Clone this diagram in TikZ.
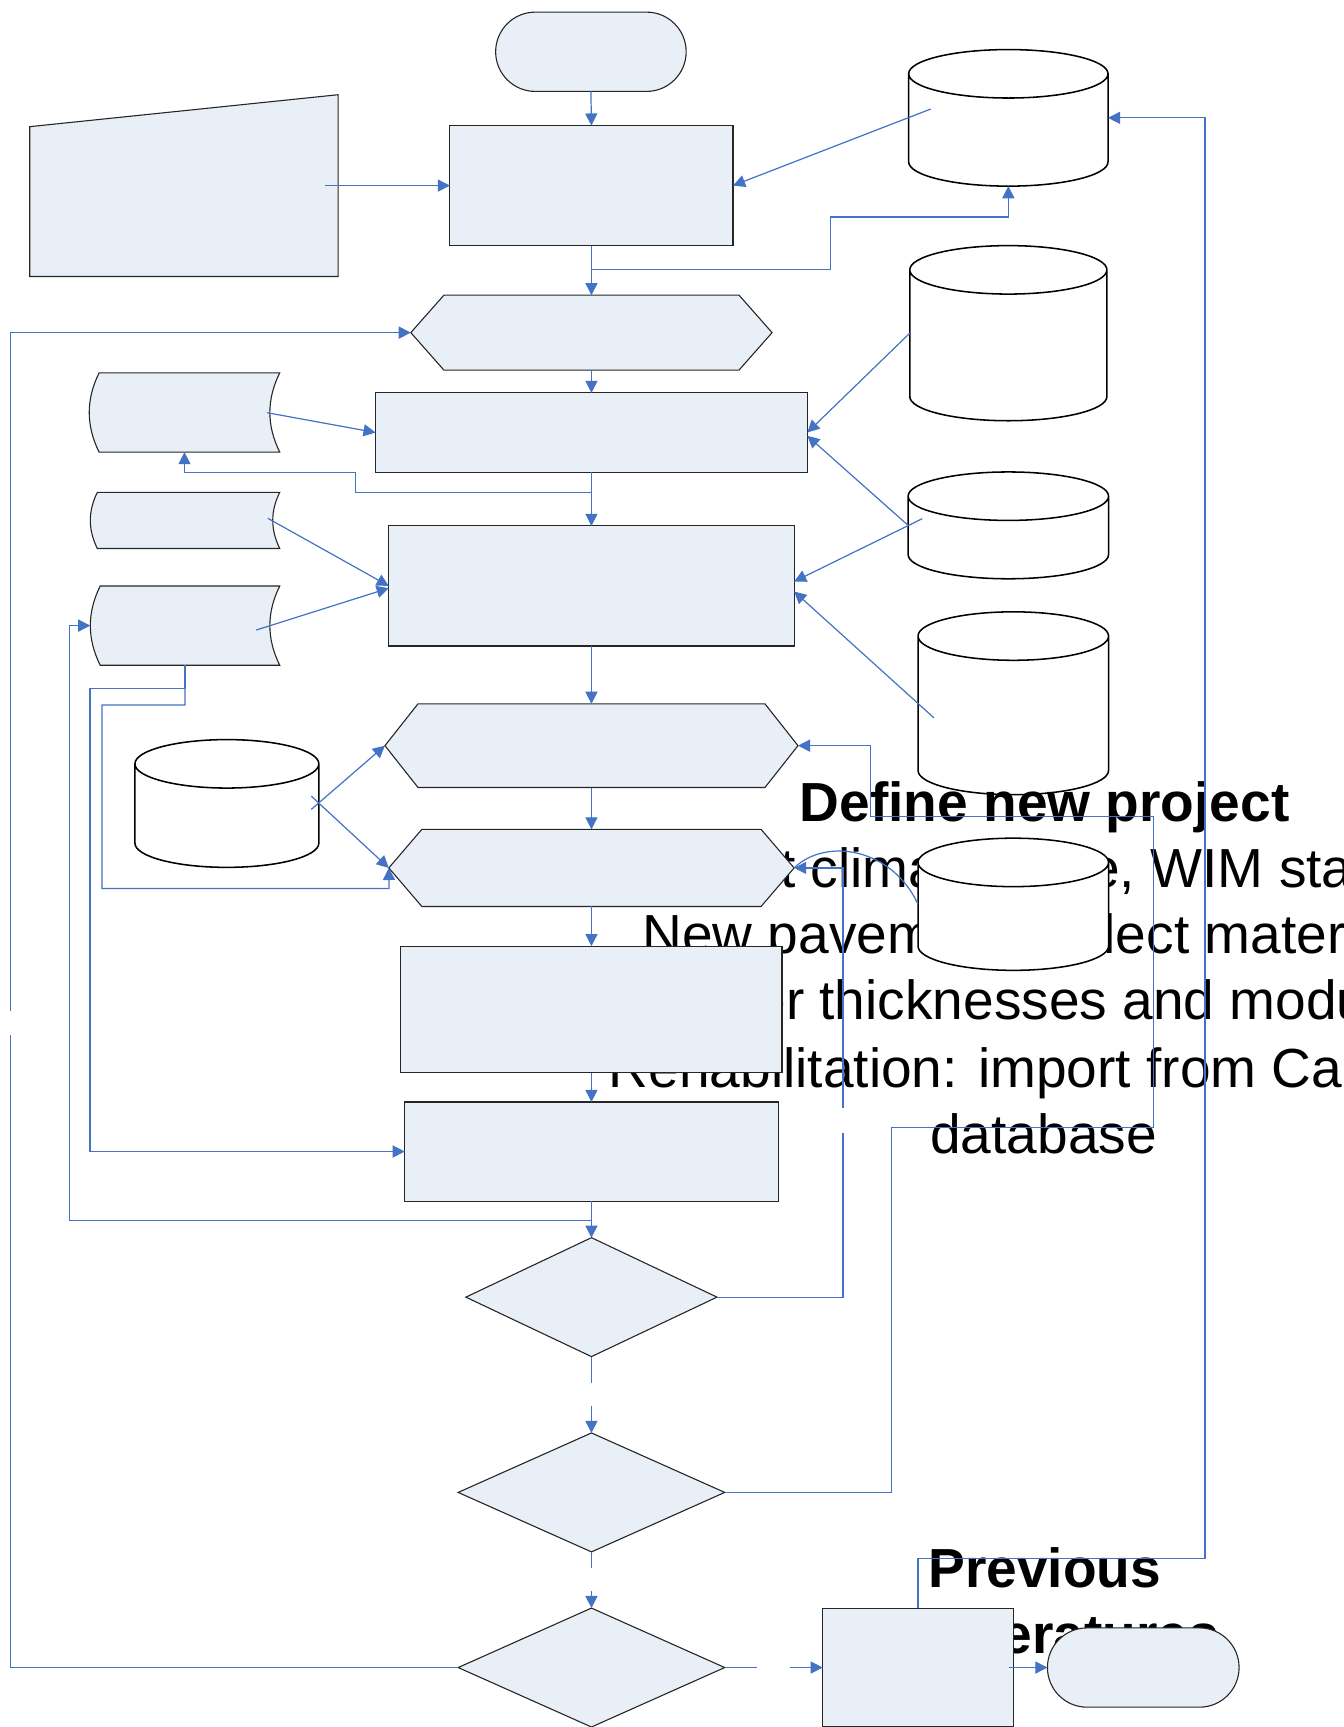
\documentclass[tikz,border=0pt]{standalone}
\usepackage{fontspec}
\setmainfont{Liberation Sans}
\usetikzlibrary{arrows.meta,shapes.geometric,calc}
\definecolor{fc_fill}{RGB}{233,239,247}
\definecolor{fc_blue}{RGB}{68,114,196}
\tikzstyle{holder}=[rectangle,inner sep=0pt,outer sep=0pt]
\tikzstyle{procbox}=[rectangle,fill=fc_fill,draw=black!85,line width=1pt,inner sep=0pt,outer sep=0pt]
\tikzstyle{termbox}=[procbox,rounded corners=36pt]
\tikzstyle{decbox}=[diamond,fill=fc_fill,draw=black!85,line width=1pt,inner sep=0pt,outer sep=0pt]
\tikzstyle{shapeline}=[fill=fc_fill,draw=black!85,line width=1pt]
\tikzstyle{dbline}=[fill=white,draw=black,line width=1.4pt]
\tikzstyle{flow}=[draw=fc_blue,line width=1.1pt]
\tikzstyle{flowarrow}=[flow,-{Triangle[length=11pt,width=11pt]}]
\tikzstyle{txt}=[inner sep=0pt,anchor=base,font=\fontsize{50}{60}\selectfont]
\tikzstyle{txtbold}=[txt,font=\fontsize{50}{60}\selectfont\bfseries]

\begin{document}
\begin{tikzpicture}[x=1pt,y=-1pt]
        \useasboundingbox (0,0) rectangle (1220,1568);
        \clip (0,0) rectangle (1220,1568);
        \node[style=termbox,minimum width=173,minimum height=72] (st) at (536.5,47) {};
        \node[style=holder,minimum width=280,minimum height=165] (mi) at (167,168.5) {};
        \node[style=procbox,minimum width=257,minimum height=109] (p1) at (537,168.5) {};
        \node[style=holder,minimum width=181,minimum height=124] (db1) at (915.5,107) {};
        \node[style=holder,minimum width=328,minimum height=68] (hx1) at (537,302) {};
        \node[style=procbox,minimum width=392,minimum height=72] (p2) at (537,392.7) {};
        \node[style=holder,minimum width=173,minimum height=72] (dc1) at (167.5,374.5) {};
        \node[style=holder,minimum width=179,minimum height=159] (db2) at (915.5,302.5) {};
        \node[style=holder,minimum width=172,minimum height=51] (dc2) at (168,472.5) {};
        \node[style=holder,minimum width=172,minimum height=72] (dc3) at (168,568) {};
        \node[style=procbox,minimum width=368,minimum height=109] (p3) at (537,532) {};
        \node[style=holder,minimum width=182,minimum height=97] (db3) at (915.5,477) {};
        \node[style=holder,minimum width=173,minimum height=166] (db4) at (920,638.5) {};
        \node[style=holder,minimum width=375,minimum height=76] (hx2) at (537,677) {};
        \node[style=holder,minimum width=167,minimum height=116] (db5) at (206,729.5) {};
        \node[style=holder,minimum width=368,minimum height=70] (hx3) at (537,788) {};
        \node[style=holder,minimum width=173,minimum height=120] (db6) at (920,821) {};
        \node[style=procbox,minimum width=339,minimum height=90] (p5) at (537,1045.5) {};
        \node[style=decbox,minimum width=228,minimum height=108] (d1) at (537,1177.7) {};
        \node[style=decbox,minimum width=242,minimum height=108] (d2) at (537,1355) {};
        \node[style=decbox,minimum width=242,minimum height=108] (d3) at (537,1514) {};
        \filldraw[style=shapeline] ($(mi.north west)+(0,29)$) -- (mi.north east) -- (mi.south east) -- (mi.south west) -- cycle;
        \foreach \hx in {hx1,hx2}
          \filldraw[style=shapeline] (\hx.west) -- ($(\hx.north west)+(30,0)$) -- ($(\hx.north east)+(-30,0)$)
            -- (\hx.east) -- ($(\hx.south east)+(-30,0)$) -- ($(\hx.south west)+(30,0)$) -- cycle;
        \foreach \dc in {dc1,dc2,dc3}
          \filldraw[style=shapeline] let \p1=(\dc.north west), \p2=(\dc.south east), \n1={(\y1-\y2)/8} in
            (\x1+\n1,\y1) -- (\x2,\y1)
            .. controls (\x2-1.33*\n1,\y1-2.67*\n1) and (\x2-1.33*\n1,\y2+2.67*\n1) .. (\x2,\y2)
            -- (\x1+\n1,\y2)
            .. controls (\x1-0.33*\n1,\y2+2.67*\n1) and (\x1-0.33*\n1,\y1-2.67*\n1) .. (\x1+\n1,\y1) -- cycle;
        \foreach \cy in {db1,db2,db3,db4,db5}
          \filldraw[style=dbline] let \p1=(\cy.north west), \p2=(\cy.south east), \n1={(\x2-\x1)/2} in
            (\x1,\y1-22pt) -- (\x1,\y2+22pt) arc[start angle=180,end angle=360,x radius=\n1*1pt,y radius=22pt]
            -- (\x2,\y1-22pt) arc[start angle=0,end angle=180,x radius=\n1*1pt,y radius=22pt] -- cycle
            (\x1,\y1-22pt) arc[start angle=180,end angle=360,x radius=\n1*1pt,y radius=22pt];
        \node[style=txtbold] (t1) at (948.5,746) {Define new project};
        \node[style=txt] (t2) at (946,806) {Select climate zone, WIM station};
        \node[style=txt] (t3) at (940,866) {New pavement: select materials};
        \node[style=txt] (t4) at (943,926) {layer thicknesses and moduli};
        \node[style=txt] (t5) at (947,987) {Rehabilitation: import from Caltrans};
        \node[style=txt] (t6) at (947.5,1047) {database};
        \node[style=txtbold] (t7) at (948.5,1441) {Previous};
        \node[style=txtbold] (t8) at (948.5,1501) {temperatures};
        \foreach \hx in {hx3}
          \filldraw[style=shapeline] (\hx.west) -- ($(\hx.north west)+(30,0)$) -- ($(\hx.north east)+(-30,0)$)
            -- (\hx.east) -- ($(\hx.south east)+(-30,0)$) -- ($(\hx.south west)+(30,0)$) -- cycle;
        \foreach \cy in {db6}
          \filldraw[style=dbline] let \p1=(\cy.north west), \p2=(\cy.south east), \n1={(\x2-\x1)/2} in
            (\x1,\y1-22pt) -- (\x1,\y2+22pt) arc[start angle=180,end angle=360,x radius=\n1*1pt,y radius=22pt]
            -- (\x2,\y1-22pt) arc[start angle=0,end angle=180,x radius=\n1*1pt,y radius=22pt] -- cycle
            (\x1,\y1-22pt) arc[start angle=180,end angle=360,x radius=\n1*1pt,y radius=22pt];
        \node[style=procbox,minimum width=346,minimum height=115] (p4) at (537,916.5) {};
        \node[style=procbox,minimum width=173,minimum height=108] (p6) at (833.5,1514) {};
        \node[style=termbox,minimum width=174,minimum height=72] (en) at (1038,1514) {};
        \coordinate (db1in) at (845,99);
        \coordinate (dc1in) at (242.5,374.7);
        \coordinate (dc2in) at (243.2,470.6);
        \coordinate (dc3in) at (232.7,572);
        \coordinate (db3in) at (837.4,470.9);
        \coordinate (db4in) at (848,651.8);
        \coordinate (db5a) at (282.6,734.9);
        \coordinate (db5b) at (282.6,722.8);
        \coordinate (lj1) at (9.5,940);
        \coordinate (lj2) at (9.5,918);
        \coordinate (lj3) at (765.3,1029);
        \coordinate (lj4) at (765.3,1006);
        \coordinate (lj5) at (537,1255.5);
        \coordinate (lj6) at (537,1276.6);
        \coordinate (lj7) at (537,1424);
        \coordinate (lj8) at (537,1444.4);
        \coordinate (lj9) at (687,1514);
        \coordinate (lj10) at (717,1514);
        \draw[style=flowarrow] (st.south) -- (p1.north);
        \draw[style=flowarrow] ([xshift=-12pt]mi.east) -- (p1.west);
        \draw[style=flowarrow] (db1in) -- (p1.east);
        \draw[style=flowarrow] (p1.south) |- (754,245) -- (754,197) -| (db1.south);
        \draw[style=flowarrow] (p1.south) -- (hx1.north);
        \draw[style=flow] (d3.west) -| (lj1);
        \draw[style=flowarrow] (lj2) |- (hx1.west);
        \draw[style=flowarrow] (hx1.south) -- (p2.north);
        \draw[style=flowarrow] (dc1in) -- (p2.west);
        \draw[style=flowarrow] (p2.south) |- (323,447) -- (323,429) -| (dc1.south);
        \draw[style=flowarrow] (p2.south) -- (p3.north);
        \draw[style=flowarrow] (db2.west) -- (p2.east);
        \draw[style=flowarrow] (db3.west) -- ([yshift=-3pt]p2.east);
        \draw[style=flowarrow] (db3in) -- ([yshift=4pt]p3.east);
        \draw[style=flowarrow] (db4in) -- ([yshift=-5pt]p3.east);
        \draw[style=flowarrow] (dc2in) -- (p3.west);
        \draw[style=flowarrow] (dc3in) -- ([yshift=-2pt]p3.west);
        \draw[style=flowarrow] (p5.south) |- (63,1108.4) |- (dc3.west);
        \draw[style=flowarrow] (p5.south) -- (d1.north);
        \draw[style=flowarrow] (dc3.south) |- (81.7,625) |- (p5.west);
        \draw[style=flowarrow] (dc3.south) |- (92.6,640) |- (353.3,806.6) -- (hx3.west);
        \draw[style=flowarrow] (p3.south) -- (hx2.north);
        \draw[style=flowarrow] (hx2.south) -- (hx3.north);
        \draw[style=flowarrow] (hx3.south) -- (p4.north);
        \draw[style=flowarrow] (p4.south) -- (p5.north);
        \draw[style=flowarrow] (db5a) -- (hx2.west);
        \draw[style=flowarrow] (db5b) -- (hx3.west);
        \draw[style=flowarrow] (d2.east) -| (809.5,1023.6) -| (1047,741) -| (790.5,677) -- (hx2.east);
        \draw[style=flow] (d1.east) -| (lj3);
        \draw[style=flowarrow] (lj4) |- (hx3.east);
        \draw[style=flow] (db6.west) .. controls (810,770) and (750,760) .. (hx3.east);
        \draw[style=flow] (d1.south) -- (lj5);
        \draw[style=flowarrow] (lj6) -- (d2.north);
        \draw[style=flow] (d2.south) -- (lj7);
        \draw[style=flowarrow] (lj8) -- (d3.north);
        \draw[style=flow] (d3.east) -- (lj9);
        \draw[style=flowarrow] (lj10) -- (p6.west);
        \draw[style=flowarrow] ([xshift=-4pt]p6.east) -- (en.west);
        \draw[style=flowarrow] (p6.north) |- (1094,1415) |- (db1.east);
    \end{tikzpicture}
\end{document}
